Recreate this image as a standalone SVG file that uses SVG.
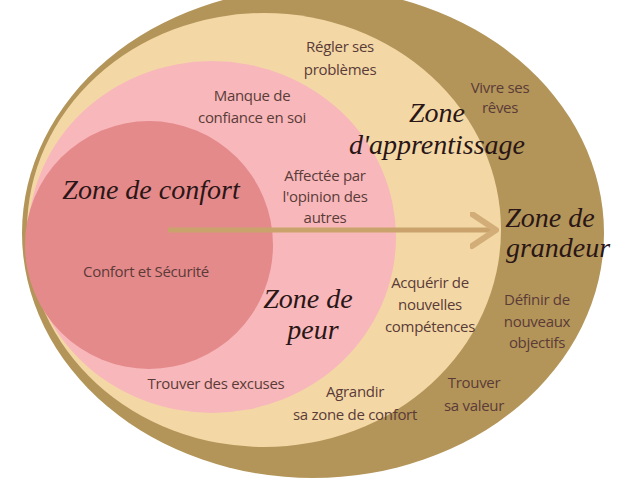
<svg xmlns="http://www.w3.org/2000/svg" width="640" height="480" viewBox="0 0 640 480">
<defs>
<style>
.t{font-family:"Open Sans","Liberation Sans",sans-serif;font-size:15px;fill:#5b3b38;text-anchor:middle;letter-spacing:-0.3px}
.s{font-family:"Liberation Serif",serif;font-style:italic;font-size:28px;fill:#2a1616;text-anchor:middle}
</style>
<marker id="ah" markerWidth="30" markerHeight="40" refX="26" refY="18" orient="auto" markerUnits="userSpaceOnUse">
<path d="M2,2 L26,18 L2,34" fill="none" stroke="#d2ad78" stroke-width="6" stroke-linecap="round" stroke-linejoin="round"/>
</marker>
</defs>
<rect width="640" height="480" fill="#ffffff"/>
<g id="zone-grandeur"><ellipse cx="313" cy="233" rx="291" ry="245" fill="#b39559"/></g>
<g id="zone-apprentissage"><ellipse cx="264" cy="230" rx="237" ry="217" fill="#f3d8a6"/></g>
<g id="zone-peur"><ellipse cx="212" cy="237" rx="184" ry="176" fill="#f8b8bb"/></g>
<g id="zone-confort"><circle cx="149" cy="245" r="124" fill="#e58a8b"/></g>
<g id="connectors">
<line x1="168" y1="230" x2="496" y2="230" stroke="#c9a36b" stroke-width="5" marker-end="url(#ah)"/>
</g>
<g id="labels">
<text class="t" x="340" y="52">Régler ses</text>
<text class="t" x="340" y="75">problèmes</text>
<text class="t" x="500" y="93">Vivre ses</text>
<text class="t" x="500" y="113">rêves</text>
<text class="t" x="252" y="101">Manque de</text>
<text class="t" x="252" y="123">confiance en soi</text>
<text class="s" x="437" y="122">Zone</text>
<text class="s" x="437" y="154">d'apprentissage</text>
<text class="t" x="325" y="181">Affectée par</text>
<text class="t" x="325" y="202">l'opinion des</text>
<text class="t" x="325" y="223">autres</text>
<text class="s" x="151" y="199">Zone de confort</text>
<text class="s" x="550" y="227">Zone de</text>
<text class="s" x="558" y="257">grandeur</text>
<text class="t" x="146" y="277">Confort et Sécurité</text>
<text class="s" x="308" y="308">Zone de</text>
<text class="s" x="313" y="339">peur</text>
<text class="t" x="430" y="288">Acquérir de</text>
<text class="t" x="430" y="310">nouvelles</text>
<text class="t" x="430" y="332">compétences</text>
<text class="t" x="537" y="305">Définir de</text>
<text class="t" x="537" y="327">nouveaux</text>
<text class="t" x="537" y="348">objectifs</text>
<text class="t" x="216" y="389">Trouver des excuses</text>
<text class="t" x="355" y="397">Agrandir</text>
<text class="t" x="355" y="420">sa zone de confort</text>
<text class="t" x="474" y="388">Trouver</text>
<text class="t" x="474" y="411">sa valeur</text>
</g>
</svg>
